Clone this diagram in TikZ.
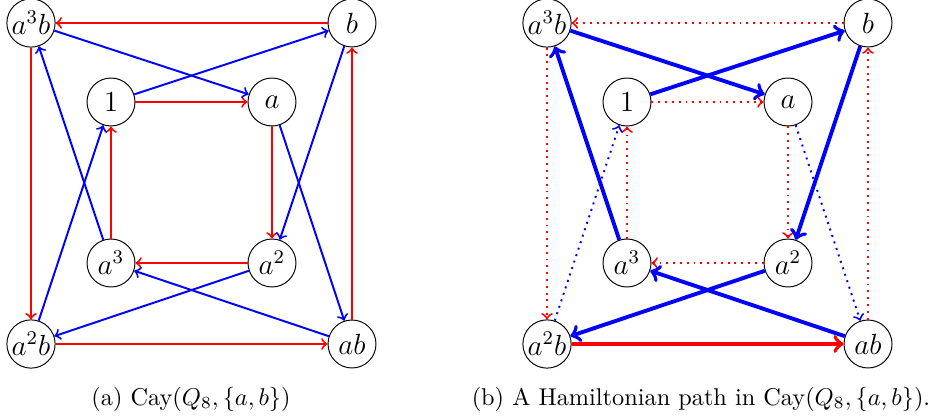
\documentclass[tikz,border=0pt]{standalone}
\begin{document}
\begin{tikzpicture}[x=0.4115pt,y=-0.4115pt,
  v/.style={circle,draw,minimum size=19.75pt,inner sep=0.5pt,font=\large},
  ra/.style={->,red,thick},
  ba/.style={->,blue,thick},
  rp/.style={->,red,ultra thick},
  bp/.style={->,blue,ultra thick},
  rd/.style={->,red,thick,dotted},
  bd/.style={->,blue,thick,dotted},
  captext/.style={anchor=base,inner sep=0pt}]
\useasboundingbox (0,0) rectangle (942,418);
% left diagram
\node[v] (L1) at (111,102) {$1$};
\node[v] (La) at (272,102) {$a$};
\node[v] (La2) at (272,263) {$a^2$};
\node[v] (La3) at (111,263) {$a^3$};
\node[v] (Lb) at (352,23) {$b$};
\node[v] (Lab) at (352,344) {$ab$};
\node[v] (La2b) at (31,344) {$a^2b$};
\node[v] (La3b) at (31,23) {$a^3b$};
\draw[ra] (L1) -- (La);
\draw[ra] (La) -- (La2);
\draw[ra] (La2) -- (La3);
\draw[ra] (La3) -- (L1);
\draw[ra] (Lb) -- (La3b);
\draw[ra] (La3b) -- (La2b);
\draw[ra] (La2b) -- (Lab);
\draw[ra] (Lab) -- (Lb);
\draw[ba] (L1) -- (Lb);
\draw[ba] (Lb) -- (La2);
\draw[ba] (La2) -- (La2b);
\draw[ba] (La2b) -- (L1);
\draw[ba] (La) -- (Lab);
\draw[ba] (Lab) -- (La3);
\draw[ba] (La3) -- (La3b);
\draw[ba] (La3b) -- (La);
\node[captext] (capA) at (191,405) {(a) Cay$(Q_8,\{a,b\})$};
% right diagram
\node[v] (R1) at (627,102) {$1$};
\node[v] (Ra) at (788,102) {$a$};
\node[v] (Ra2) at (788,263) {$a^2$};
\node[v] (Ra3) at (627,263) {$a^3$};
\node[v] (Rb) at (868,23) {$b$};
\node[v] (Rab) at (868,344) {$ab$};
\node[v] (Ra2b) at (547,344) {$a^2b$};
\node[v] (Ra3b) at (547,23) {$a^3b$};
\draw[rd] (R1) -- (Ra);
\draw[rd] (Ra) -- (Ra2);
\draw[rd] (Ra2) -- (Ra3);
\draw[rd] (Ra3) -- (R1);
\draw[rd] (Rb) -- (Ra3b);
\draw[rd] (Ra3b) -- (Ra2b);
\draw[rp] (Ra2b) -- (Rab);
\draw[rd] (Rab) -- (Rb);
\draw[bp] (R1) -- (Rb);
\draw[bp] (Rb) -- (Ra2);
\draw[bp] (Ra2) -- (Ra2b);
\draw[bd] (Ra2b) -- (R1);
\draw[bd] (Ra) -- (Rab);
\draw[bp] (Rab) -- (Ra3);
\draw[bp] (Ra3) -- (Ra3b);
\draw[bp] (Ra3b) -- (Ra);
\node[captext] (capB) at (701,405) {(b) A Hamiltonian path in Cay$(Q_8,\{a,b\})$.};
\end{tikzpicture}
\end{document}
